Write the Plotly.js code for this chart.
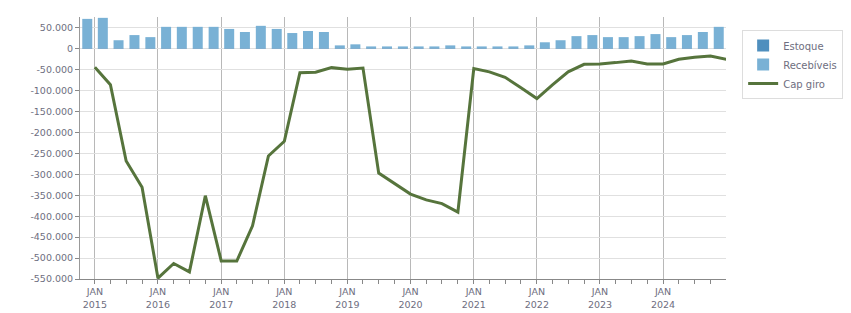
<!DOCTYPE html>
<html>
<head>
<meta charset="utf-8">
<script src="https://cdn.plot.ly/plotly-3.0.1.min.js"></script>
<style>html,body{margin:0;padding:0;background:#fff;}#chart{width:851px;height:313px;}</style>
</head>
<body>
<div id="chart"></div>
<script>
// Quarterly dates (Jan 2015 .. Jan 2025)
const quarters = [
 '2015-01-01','2015-04-01','2015-07-01','2015-10-01',
 '2016-01-01','2016-04-01','2016-07-01','2016-10-01',
 '2017-01-01','2017-04-01','2017-07-01','2017-10-01',
 '2018-01-01','2018-04-01','2018-07-01','2018-10-01',
 '2019-01-01','2019-04-01','2019-07-01','2019-10-01',
 '2020-01-01','2020-04-01','2020-07-01','2020-10-01',
 '2021-01-01','2021-04-01','2021-07-01','2021-10-01',
 '2022-01-01','2022-04-01','2022-07-01','2022-10-01',
 '2023-01-01','2023-04-01','2023-07-01','2023-10-01',
 '2024-01-01','2024-04-01','2024-07-01','2024-10-01',
 '2025-01-01'
];
const estoque = [
 1500,1500,1500,1500,1500,1500,1500,1500,1500,1500,
 1500,1500,1500,1500,1500,1500,1500,1500,1500,1500,
 1500,1500,1500,1500,1500,1500,1500,1500,1500,1500,
 1500,1500,1500,1500,1500,1500,1500,1500,1500,1500,1500
];
const recebiveis = [
 70000,72500,19000,31300,26400,51000,51000,51000,51000,46000,
 38700,53400,46000,36200,41100,38700,6700,9200,4200,4200,
 4200,4200,4200,6700,4200,4200,4200,4200,6700,14100,
 19000,28800,31300,26400,26400,28800,33700,26400,31300,38700,51000
];
const capGiro = [
 -44000,-86000,-268000,-331000,-548000,-513000,-533000,-351000,-507000,-507000,
 -423000,-256000,-221000,-57000,-56000,-45000,-49000,-46000,-297000,-323000,
 -347000,-361000,-370000,-390000,-47000,-55000,-68000,-93000,-119000,-86000,
 -55000,-37000,-36000,-33000,-29000,-36000,-36000,-25000,-20000,-17000,-25000
];
const yTickVals = [50000,0,-50000,-100000,-150000,-200000,-250000,-300000,-350000,-400000,-450000,-500000,-550000];
const yTickText = ['50.000','0','-50.000','-100.000','-150.000','-200.000','-250.000','-300.000','-350.000','-400.000','-450.000','-500.000','-550.000'];
const xTickVals = ['2015-01-01','2016-01-01','2017-01-01','2018-01-01','2019-01-01','2020-01-01','2021-01-01','2022-01-01','2023-01-01','2024-01-01'];
const xTickText = ['JAN<br>2015','JAN<br>2016','JAN<br>2017','JAN<br>2018','JAN<br>2019','JAN<br>2020','JAN<br>2021','JAN<br>2022','JAN<br>2023','JAN<br>2024'];

const textColor = '#6e6e80';
const barOffset = -6.3e9, barWidth = 5.0e9;

const traces = [
 {type:'bar', name:'Estoque', x:quarters, y:estoque, offset:barOffset, width:barWidth,
  marker:{color:'#4f8fbe', line:{width:0}}, hoverinfo:'x+y'},
 {type:'bar', name:'Recebíveis', x:quarters, y:recebiveis, offset:barOffset, width:barWidth,
  marker:{color:'#79b1d5', line:{width:0}}, hoverinfo:'x+y'},
 {type:'scatter', mode:'lines', name:'Cap giro', x:quarters, y:capGiro,
  line:{color:'#56743c', width:3}}
];

const layout = {
 width:851, height:313,
 margin:{l:80, r:125, t:17, b:34, pad:0, autoexpand:false},
 paper_bgcolor:'#ffffff', plot_bgcolor:'#ffffff',
 barmode:'relative',
 separators:',.',
 font:{family:'DejaVu Sans, sans-serif', size:9.5, color:textColor},
 showlegend:true,
 legend:{x:1.025, y:0.95, xanchor:'left', yanchor:'top', traceorder:'normal',
  bordercolor:'#dddddd', borderwidth:1, bgcolor:'#ffffff',
  font:{family:'DejaVu Sans, sans-serif', size:10, color:textColor},
  itemwidth:30, tracegroupgap:0},
 xaxis:{type:'date', range:['2014-10-07','2024-12-30'],
  tickmode:'array', tickvals:xTickVals, ticktext:xTickText,
  ticks:'outside', ticklen:4, tickcolor:'#888888',
  showgrid:true, gridcolor:'#b8b8b8', gridwidth:1,
  showline:true, linecolor:'#888888', linewidth:1,
  zeroline:false,
  minor:{dtick:'M3', tick0:'2015-01-01', ticks:'outside', ticklen:4, tickcolor:'#888888', showgrid:false},
  tickfont:{family:'DejaVu Sans, sans-serif', size:9.5, color:textColor}},
 yaxis:{range:[-550000,76000],
  tickmode:'array', tickvals:yTickVals, ticktext:yTickText,
  ticks:'outside', ticklen:4, tickcolor:'#888888',
  showgrid:true, gridcolor:'#e0e0e0', gridwidth:1,
  showline:true, linecolor:'#999999', linewidth:1,
  zeroline:false,
  tickfont:{family:'DejaVu Sans, sans-serif', size:9.5, color:textColor}}
};

Plotly.newPlot('chart', traces, layout, {displayModeBar:false, staticPlot:true});
</script>
</body>
</html>
